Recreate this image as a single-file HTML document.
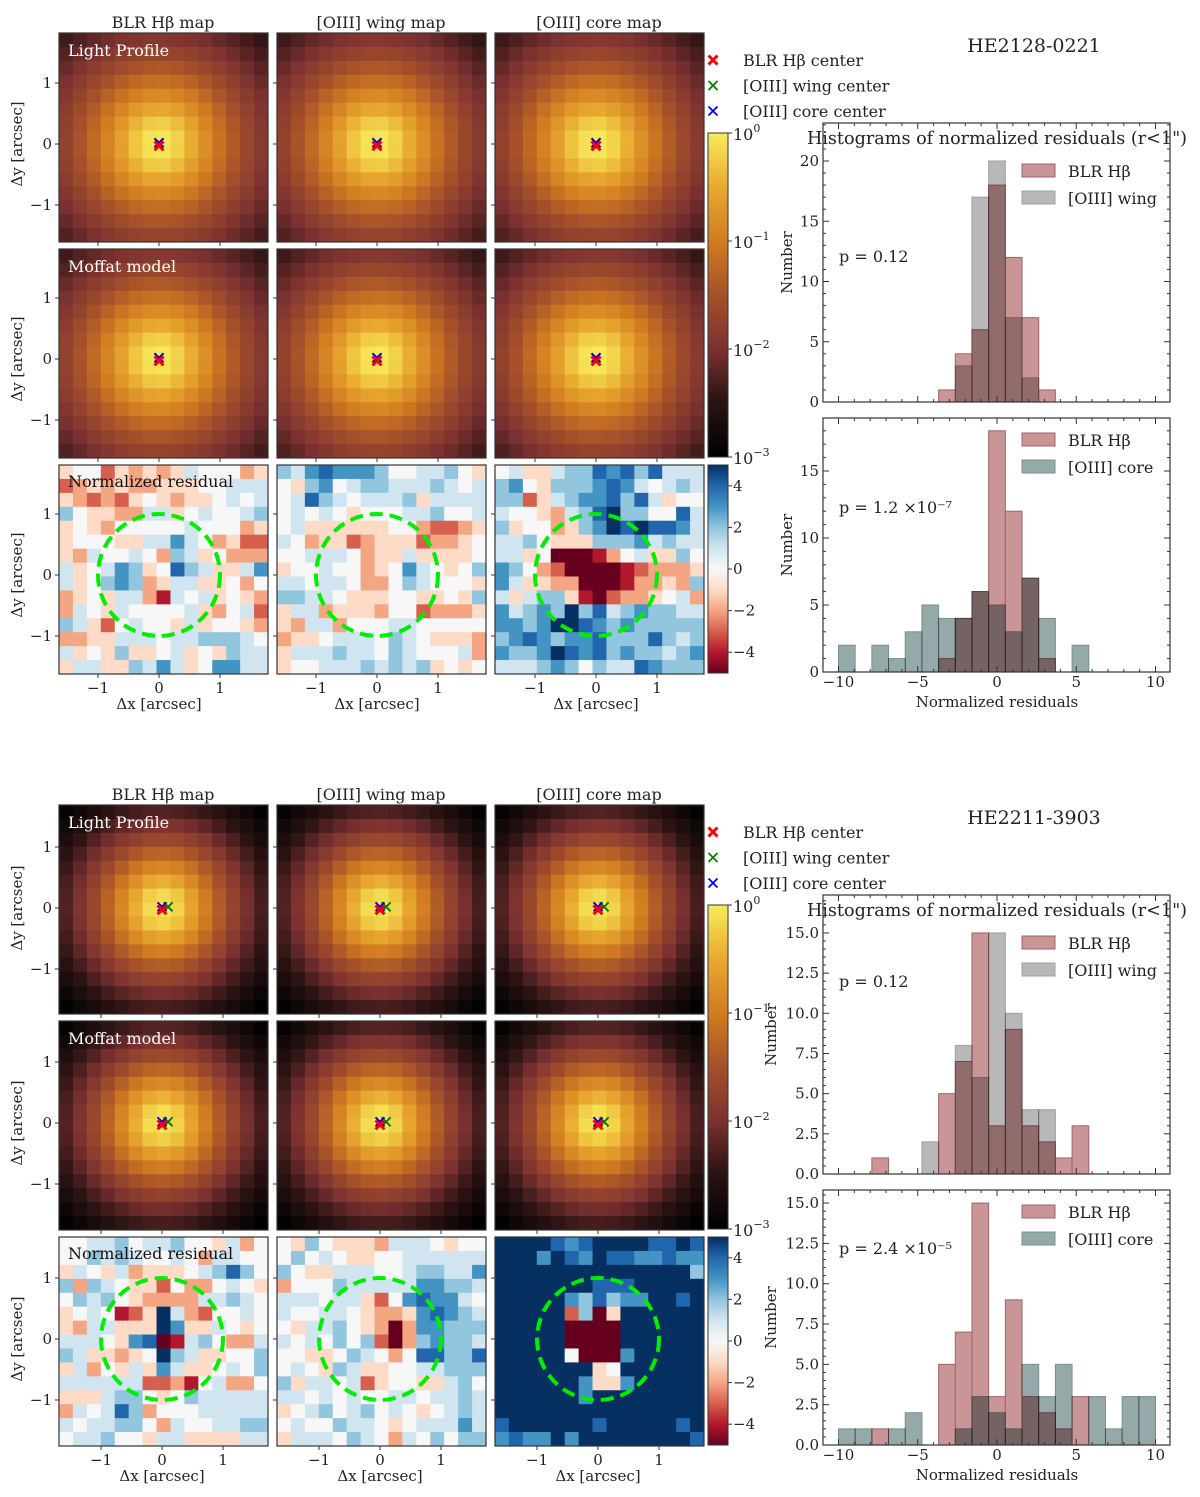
<!DOCTYPE html>
<html><head><meta charset="utf-8">
<style>
body{margin:0;background:#fff;}
svg text{font-family:"DejaVu Serif","Liberation Serif",serif;fill:#222;}
.mult{mix-blend-mode:multiply;}
</style></head>
<body>
<svg id="fig" xmlns="http://www.w3.org/2000/svg" width="1200" height="1492" viewBox="0 0 1200 1492">
<defs>
<linearGradient id="gLight" x1="0" y1="1" x2="0" y2="0">
<stop offset="0" stop-color="#000000"/><stop offset="0.18" stop-color="#2e1414"/><stop offset="0.33" stop-color="#7a3030"/><stop offset="0.5" stop-color="#a5502a"/><stop offset="0.66" stop-color="#d07a20"/><stop offset="0.83" stop-color="#e8a830"/><stop offset="1" stop-color="#f8ec5a"/>
</linearGradient>
<linearGradient id="gRes" x1="0" y1="1" x2="0" y2="0">
<stop offset="0" stop-color="#67001f"/><stop offset="0.1" stop-color="#b2182b"/><stop offset="0.2" stop-color="#d6604d"/><stop offset="0.3" stop-color="#f4a582"/><stop offset="0.4" stop-color="#fddbc7"/><stop offset="0.5" stop-color="#f7f7f7"/><stop offset="0.6" stop-color="#d1e5f0"/><stop offset="0.7" stop-color="#92c5de"/><stop offset="0.8" stop-color="#4393c3"/><stop offset="0.9" stop-color="#2166ac"/><stop offset="1" stop-color="#053061"/>
</linearGradient>
</defs>
</svg>
<script>
// ---------- DATA ----------
const objects = ["HE2128-0221","HE2211-3903"];
const mapTitles = ["BLR H\u03b2 map","[OIII] wing map","[OIII] core map"];
// Moffat params per object: [alpha, beta]
const moffatTop = [0.65,2.1];
const moffatBot = [0.6,2.5];
// centers (arcsec) per object: red, green, blue
const centersTop = [[0,-0.03],[0,0.02],[0,0.02]];
const centersBot = [[0,-0.03],[0.1,0.02],[0,0.02]];
// residual grids: a=-5 ... f=0 ... k=+5
const resTop1 = ["effcededegfffde","cdededdeeeffggg","edcdcefedeefgfg","hfeeddggefgffgh","efedfffffgfffde","efffeeggigfdecc","edgffgfdhgefddd","gefgihefjhgeegi","gefhihdeggeefdf","defeggdbgfgefed","dgfegffffgedfgc","hgecfgffegeffed","ddeegggfgghhhgf","gefeheefgefehgg","eggeehgigefiigg"];
const resTop2 = ["hgijiiihffgghfe","fehifghhggghgfg","fgjhgfggghegggg","fgfgfefffgghffg","fgeeeeeeffdccde","gfdeecdeeecddef","ffgggfdeegeeeef","effgffdefigfefh","ggfggfddfhgfffe","hhggfeeeffeefeh","eggdeeedffcddde","edggdfffggfffff","deefgggfhgfeeed","eggghggfhgfffgd","effggghghghefef"];
const resTop3 = ["fgeeghhjijhjggg","hifehhhijigfghg","hhceghiijhjgeff","gffedghjkhhffjg","heffdehikjkjjig","gghfeeehhhighgg","ggefaaabdfgeehf","ihfdcaaaabcddde","igeeddaaabddedh","geghhebacddefgd","ighihkhjghihhgg","iihikkjihihhhhh","hijihiijhhhjhgh","ihhikjijhihhghi","ggghihfhggjihhh"];
const resBot1 = ["ffgghfgghffegdf","ffhghgffgfdggff","egfegdeeefghjhf","hdhgfeecfddfgfe","fhghfeddddgghgf","efgfbcekgdcffgf","edggeeekieegfef","gggfeijabghfddg","hgeedefkhgeeffh","egdfegeigeefgfh","ggggggccdbfgddf","eeeghhfefhggggg","dgfgjhdfffggggg","gfgghhfdgffgghh","fgghffeggeeeegg"];
const resBot2 = ["fehfeeedgggfeff","fhfgfeeffgggggg","hfeegggffghhggi","dfffhgggggiihhg","gggfggecfijiigf","gffggfeddeijihg","fegghfedadiihhh","gfgfhfhcadhihhg","ffeefhgfdfjjhhj","fgfehgeeffgghhh","heggfgceffeeghf","ggfgfgffggfgghg","efghfghfgfefghg","fgffhggfefgggig","egggfhgfdgfhfhh"];
const resBot3 = ["kkkkjijkkkkjjkj","kkkikjikjjiijii","kkkkkkkkkkkkkkh","kkkkkkkjjjkkkkk","kkkkkihjhiikkjk","kkkkkchaekkkkkk","kkkkkaaaakkkkkk","kkkkkaaaakkkkkk","kkkkkfaaaikkkkk","kkkkkkkefkkkkkk","kkkkkkieeikkkkk","kkkkkkikkkkkkkk","kkkkkkkkkkkkkkk","jkkkkkkjkkkkkjk","ijiikikkkkkkkkj"];
// histograms (19 bins from -10 to 10)
const binLo = -10, binHi = 10, nBins = 19;
const topHistBLR = [0,0,0,0,0,0,1,4,6,18,12,7,1,0,0,0,0,0,0];
const topHistWing = [0,0,0,0,0,0,0,3,17,20,7,2,0,0,0,0,0,0,0];
const topHistCore = [2,0,2,1,3,5,4,4,6,5,3,7,4,0,2,0,0,0,0];
const botHistBLR = [0,0,1,0,0,0,5,7,15,3,9,3,2,1,3,0,0,0,0];
const botHistWing = [0,0,0,0,0,2,0,8,6,15,10,4,4,0,0,0,0,0,0];
const botHistCore = [1,1,0,1,2,0,0,1,3,2,1,5,3,5,0,3,1,3,3];
const pTexts = [["p = 0.12","p = 1.2 \u00d710\u207b\u2077"],["p = 0.12","p = 2.4 \u00d710\u207b\u2075"]];
const xTickVals = [-1,0,1];
const histXTicks = [-10,-5,0,5,10];

// ---------- HELPERS ----------
const svg = document.getElementById('fig');
const NS = 'http://www.w3.org/2000/svg';
function mk(tag, attrs, parent){const e=document.createElementNS(NS,tag);for(const k in attrs)e.setAttribute(k,attrs[k]);(parent||svg).appendChild(e);return e;}
function txt(s,x,y,size,anchor,parent,extra){const t=mk('text',Object.assign({x:x,y:y,'font-size':size,'text-anchor':anchor||'middle'},extra||{}),parent);t.textContent=s;return t;}
function lerpHex(a,b,t){const pa=[1,3,5].map(i=>parseInt(a.substr(i,2),16)),pb=[1,3,5].map(i=>parseInt(b.substr(i,2),16));return 'rgb('+pa.map((v,i)=>Math.round(v+(pb[i]-v)*t)).join(',')+')';}
const lightStops=[[0,'#000000'],[0.18,'#2e1414'],[0.33,'#7a3030'],[0.5,'#a5502a'],[0.66,'#d07a20'],[0.83,'#e8a830'],[1,'#f8ec5a']];
function lightColor(t){t=Math.max(0,Math.min(1,t));for(let i=1;i<lightStops.length;i++){if(t<=lightStops[i][0]){const a=lightStops[i-1],b=lightStops[i];return lerpHex(a[1],b[1],(t-a[0])/(b[0]-a[0]));}}return lightStops[6][1];}
const rdbu=['#67001f','#b2182b','#d6604d','#f4a582','#fddbc7','#f7f7f7','#d1e5f0','#92c5de','#4393c3','#2166ac','#053061'];
function resColor(ch){const v=ch.charCodeAt(0)-102;return rdbu[Math.max(0,Math.min(10,v+5))];}

const S = 61; // px per arcsec
const PW = 209, N = 15, CS = PW/N;
const colX = [59,277,495];

function drawBlock(bi){
  const dy = bi*772;
  const rowY = [33+dy,249+dy,465+dy];
  const x0s = bi===0?[159,377,596]:[162,380,598];
  const y0s = bi===0?[144,359,575]:[908,1123,1339];
  const mof = bi===0?moffatTop:moffatBot;
  const centers = bi===0?centersTop:centersBot;
  const resids = bi===0?[resTop1,resTop2,resTop3]:[resBot1,resBot2,resBot3];
  const g = mk('g',{});
  
  
  for(let c=0;c<3;c++){
    const t=txt(mapTitles[c],colX[c]+104,28+dy,16,'middle',g);
    
    
    for(let r=0;r<3;r++){
      const pg=mk('g',{},g);
      
      
      const px=colX[c], py=rowY[r];
      for(let i=0;i<N;i++)for(let j=0;j<N;j++){
        let fill;
        if(r<2){
          const ax=(px+(j+0.5)*CS-x0s[c])/S, ay=(y0s[r]-(py+(i+0.5)*CS))/S;
          const rr=Math.hypot(ax,ay);
          const v=Math.pow(1+(rr/mof[0])**2,-mof[1]);
          fill=lightColor((Math.log10(v)+3)/3);
        } else fill=resColor(resids[c][i][j]||'f');
        const cell=mk('rect',{x:px+j*CS,y:py+i*CS,width:CS+0.4,height:CS+0.4,fill:fill},pg);
        
        
      }
      mk('rect',{x:px,y:py,width:PW,height:PW,fill:'none',stroke:'#333','stroke-width':1.2},pg);
      xTickVals.forEach(v=>{
        const tx=x0s[c]+v*S, ty=y0s[r]-v*S;
        mk('line',{x1:tx,y1:py+PW,x2:tx,y2:py+PW+4,stroke:'#333'},pg);
        mk('line',{x1:px,y1:ty,x2:px-4,y2:ty,stroke:'#333'},pg);
        if(r===2){const l=txt(v<0?'\u22121':String(v),tx,py+PW+19,15,'middle',pg);}
        if(c===0){const l=txt(v<0?'\u22121':String(v),px-7,ty+5,15,'end',pg);}
      });
      if(r===0&&c===0){const l=txt('Light Profile',px+9,py+23,16,'start',pg,{style:'fill:#fff'});}
      if(r===1&&c===0){const l=txt('Moffat model',px+9,py+23,16,'start',pg,{style:'fill:#fff'});}
      if(r===2&&c===0){const l=txt('Normalized residual',px+9,py+22,16,'start',pg,{style:'fill:#111'});}
      if(r<2){
        const cols=['#ff0000','#008000','#0000ff'];
        [1,2,0].forEach(k=>{
          const mx=x0s[c]+centers[k][0]*S, my=y0s[r]-centers[k][1]*S, s=4.5;
          const m=mk('path',{d:`M${mx-s},${my-s}L${mx+s},${my+s}M${mx-s},${my+s}L${mx+s},${my-s}`,stroke:cols[k],'stroke-width':k===0?3:2},pg);
          
          
        });
      } else {
        const ci=mk('circle',{cx:x0s[c],cy:y0s[r],r:S,fill:'none',stroke:'#00ee00','stroke-width':4,'stroke-dasharray':'13 7'},pg);
        
        
      }
      if(c===0){const yl=txt('\u0394y [arcsec]',0,0,15,'middle',pg,{transform:`translate(22,${y0s[r]}) rotate(-90)`});}
      if(r===2){const xl=txt('\u0394x [arcsec]',x0s[c],py+PW+35,15,'middle',pg);}
    }
  }
  const cb1=mk('rect',{x:708,y:133+dy,width:20,height:324,fill:'url(#gLight)',stroke:'#333'},g);
  
  [0,-1,-2,-3].forEach((e,i)=>{const yy=133+dy+i*108;mk('line',{x1:728,y1:yy,x2:732,y2:yy,stroke:'#333'},g);
    const l=txt('10',733,yy+7,16,'start',g);const sp=mk('tspan',{dy:-8,'font-size':11},l);sp.textContent=e===0?'0':'\u2212'+(-e);
    });
  const cb2=mk('rect',{x:708,y:465+dy,width:20,height:208,fill:'url(#gRes)',stroke:'#333'},g);
  
  [4,2,0,-2,-4].forEach(v=>{const yy=465+dy+(5-v)*20.8;mk('line',{x1:728,y1:yy,x2:732,y2:yy,stroke:'#333'},g);
    const l=txt(v<0?'\u2212'+(-v):String(v),733,yy+5,15,'start',g);});
  const lcol=['#ff0000','#008000','#0000ff'], ltxt=['BLR H\u03b2 center','[OIII] wing center','[OIII] core center'];
  for(let k=0;k<3;k++){const yy=60+dy+k*25.5,s=4.5;
    mk('path',{d:`M${713-s},${yy-s}L${713+s},${yy+s}M${713-s},${yy+s}L${713+s},${yy-s}`,stroke:lcol[k],'stroke-width':k===0?3:1.8},g);
    const l=txt(ltxt[k],743,yy+6,16,'start',g);}
  const ot=txt(objects[bi],1034,52+dy,19,'middle',g);
  const ht=txt('Histograms of normalized residuals (r<1")',997,144+dy,17.6,'middle',g);
  const H = bi===0?[[123,402,12.05,[topHistBLR,topHistWing],5,1,'wing'],[418,672,13.4,[topHistBLR,topHistCore],5,1,'core']]
                  :[[895,1174,16.07,[botHistBLR,botHistWing],2.5,0.5,'wing'],[1190,1445,16.13,[botHistBLR,botHistCore],2.5,0.5,'core']];
  H.forEach((h,hi)=>{
    const [top,y0,sc,series,maj,mnr,kind]=h;
    const hg=mk('g',{style:'isolation:isolate'},g);
    
    
    const xs=v=>997+15.85*v, ys=n=>y0-n*sc, bw=(binHi-binLo)/nBins;
    const fills=['#c99597', kind==='wing'?'#b8b8b8':'#95a9a9'];
    const strokes=['#a06468', kind==='wing'?'#a0a0a0':'#7a9090'];
    series.forEach((arr,si)=>{arr.forEach((n,k)=>{if(!n)return;
      const b=mk('rect',{x:xs(binLo+k*bw),y:ys(n),width:xs(binLo+(k+1)*bw)-xs(binLo+k*bw),height:n*sc,fill:fills[si],stroke:strokes[si],'stroke-width':1,'class':si===1?'mult':''},hg);
      
      });});
    mk('rect',{x:823,y:top,width:347,height:y0-top,fill:'none',stroke:'#333','stroke-width':1.2},hg);
    for(let v=-10;v<=10;v++){const big=histXTicks.includes(v),L=big?6:3;
      mk('line',{x1:xs(v),y1:y0,x2:xs(v),y2:y0-L,stroke:'#333'},hg);mk('line',{x1:xs(v),y1:top,x2:xs(v),y2:top+L,stroke:'#333'},hg);
      if(big&&hi===1){const l=txt(v<0?'\u2212'+(-v):String(v),xs(v),y0+15,15,'middle',hg);}}
    for(let v=0;ys(v)>=top;v+=mnr){const big=Math.abs(v/maj-Math.round(v/maj))<1e-6,L=big?6:3;
      mk('line',{x1:823,y1:ys(v),x2:823+L,y2:ys(v),stroke:'#333'},hg);mk('line',{x1:1170,y1:ys(v),x2:1170-L,y2:ys(v),stroke:'#333'},hg);
      if(big){const l=txt(maj===5?String(v):v.toFixed(1),819,ys(v)+5,15,'end',hg);}}
    const yl=txt('Number',0,0,15,'middle',hg,{transform:`translate(${bi===0?792:776},${(top+y0)/2}) rotate(-90)`});
    const ly=top+(hi===0?48:22);
    [0,1].forEach(si=>{const yy=ly+si*27;
      mk('rect',{x:1022,y:yy-7,width:33,height:13,fill:fills[si],stroke:strokes[si]},hg);
      const l=txt(si===0?'BLR H\u03b2':'[OIII] '+kind,1068,yy+6,16,'start',hg);});
    const pt=txt(pTexts[bi][hi],839,(bi===0?[262,513]:[987,1254])[hi],16,'start',hg);
    if(hi===1){const xl=txt('Normalized residuals',997,y0+35,15,'middle',hg);}
  });
}
drawBlock(0);
drawBlock(1);
</script>
</body></html>
